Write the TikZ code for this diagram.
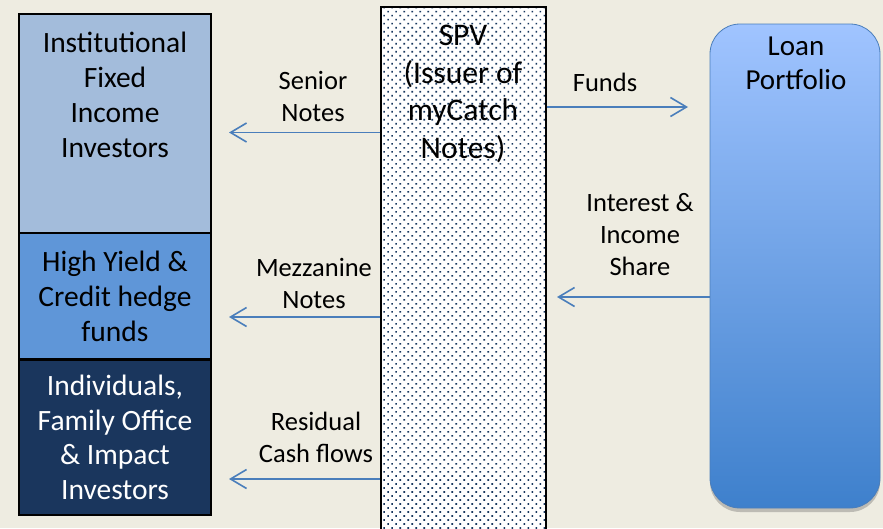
\documentclass[tikz,border=0pt]{standalone}
\usepackage{fontspec}
\setmainfont{Carlito}
\usetikzlibrary{positioning, arrows.meta, patterns.meta, shadows}

\definecolor{bgbeige}{HTML}{EEECE1}
\definecolor{instblue}{HTML}{A3BCDB}
\definecolor{hyblue}{HTML}{5F96D8}
\definecolor{indnavy}{HTML}{1A365D}
\definecolor{arrowblue}{HTML}{4A7EBB}
\definecolor{loantop}{HTML}{A0C4FF}
\definecolor{loanbot}{HTML}{3E80CC}
\definecolor{dotnavy}{HTML}{17375E}

\tikzset{
  boxtext/.style={align=center, inner sep=0pt, font=\fontsize{29.5}{35}\selectfont},
  tier/.style={boxtext, draw=black, line width=1.5pt, minimum width=192pt},
  spvbox/.style={draw=black, line width=1.2pt, preaction={fill=white},
    pattern={Dots[angle=45, distance=5.66pt, radius=1.1pt]}, pattern color=dotnavy},
  loanbox/.style={draw=arrowblue, line width=0.8pt, top color=loantop, bottom color=loanbot,
    rounded corners=30pt, drop shadow={shadow xshift=0pt, shadow yshift=-4pt, fill=black!70, opacity=0.3}},
  flow/.style={draw=arrowblue, line width=1.6pt,
    -{Straight Barb[length=16pt, width=19pt, line width=1.6pt]}},
  flowlabel/.style={align=center, inner sep=0pt, font=\fontsize{26.5}{32}\selectfont},
}

\begin{document}
\begin{tikzpicture}[x=1pt, y=-1pt]
\useasboundingbox (0,0) rectangle (883,528);
\fill[bgbeige] (0,0) rectangle (883,528);

% Investor tiers
\node[tier, fill=instblue, minimum height=219pt] (inst) at (115,123.5) {};
\node[boxtext] (inst text) at (115,95) {Institutional\\Fixed\\Income\\Investors};
\node[tier, fill=hyblue, minimum height=126pt] (hy) at (115,296) {High Yield \&\\Credit hedge\\funds};
\node[tier, fill=indnavy, text=white, minimum height=155pt,
  font=\fontsize{29.5}{34.5}\selectfont] (ind) at (115,437.5) {Individuals,\\Family Office\\\& Impact\\Investors};

% SPV column
\node[spvbox, minimum width=165pt, minimum height=530pt] (spv) at (463.5,272) {};
\node[boxtext, font=\fontsize{31.5}{37.5}\selectfont] (spv text) at (463,94) {SPV\\(Issuer of\\myCatch\\Notes)};

% Loan portfolio
\node[loanbox, minimum width=170pt, minimum height=484pt] (loan) at (795,266) {};
\node[boxtext, font=\fontsize{29}{34}\selectfont] (loan text) at (796,63) {Loan\\Portfolio};

% Arrow end points
\coordinate (senior end) at (229,132.5);
\coordinate (mezz end) at (229,317);
\coordinate (resid end) at (229,479);
\coordinate (funds end) at (688,107);
\coordinate (income end) at (557,297);

% Flows
\draw[flow] (spv.west |- senior end) -- (senior end);
\draw[flow] (spv.west |- mezz end) -- (mezz end);
\draw[flow] (spv.west |- resid end) -- (resid end);
\draw[flow] (spv.east |- funds end) -- (funds end);
\draw[flow] (loan.west |- income end) -- (income end);

% Flow labels
\node[flowlabel] (senior label) at (313,96) {Senior\\Notes};
\node[flowlabel] (mezz label) at (314,283) {Mezzanine\\Notes};
\node[flowlabel] (resid label) at (316,437) {Residual\\Cash flows};
\node[flowlabel] (funds label) at (605,82) {Funds};
\node[flowlabel] (income label) at (640,235) {Interest \&\\Income\\Share};

\end{tikzpicture}
\end{document}
